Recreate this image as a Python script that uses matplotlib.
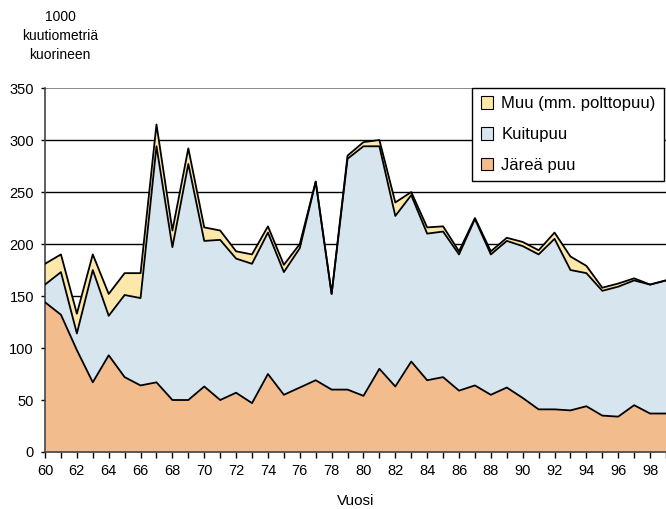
import numpy as np
import matplotlib.pyplot as plt
from matplotlib.patches import Patch

plt.rcParams['font.family'] = ['Liberation Sans', 'DejaVu Sans']

# vuodet 1960-1999
years = list(range(1960, 2000))

# järeä puu (tukit), 1000 m3
jarea = [144, 132, 98, 67, 93, 72, 64, 67, 50, 50,
         63, 50, 57, 47, 75, 55, 62, 69, 60, 60,
         54, 80, 63, 87, 69, 72, 59, 64, 55, 62,
         52, 41, 41, 40, 44, 35, 34, 45, 37, 37]

# kuitupuu, kumulatiivinen taso (järeä + kuitu)
kuitu_top = [161, 173, 114, 175, 131, 151, 148, 294, 197, 277,
             203, 204, 186, 181, 211, 173, 196, 260, 152, 282,
             294, 294, 227, 247, 210, 212, 190, 224, 190, 203,
             198, 190, 205, 175, 172, 155, 159, 165, 161, 165]

# kokonaismäärä (järeä + kuitu + muu)
total = [181, 190, 133, 190, 152, 172, 172, 315, 213, 292,
         216, 213, 193, 190, 217, 180, 200, 260, 152, 285,
         298, 300, 240, 250, 216, 217, 193, 225, 193, 206,
         202, 194, 211, 188, 179, 158, 162, 167, 161, 165]

c_muu = '#FEE8A9'
c_kuitu = '#D7E6EE'
c_jarea = '#F3BC8C'

fig = plt.figure(figsize=(6.66, 5.09), dpi=100)
ax = fig.add_axes([0.0676, 0.112, 0.9324, 0.715])

x = np.array(years) - 1900
ax.fill_between(x, kuitu_top, total, color=c_muu, lw=0, zorder=2)
ax.fill_between(x, jarea, kuitu_top, color=c_kuitu, lw=0, zorder=2)
ax.fill_between(x, 0, jarea, color=c_jarea, lw=0, zorder=2)
for s in (total, kuitu_top, jarea):
    ax.plot(x, s, color='black', lw=1.3, zorder=3)

ax.set_xlim(60, 99)
ax.set_ylim(0, 350)
ax.set_yticks(range(0, 351, 50))
ax.set_xticks(range(60, 99, 2))
ax.set_xticks(range(60, 100), minor=True)
ax.tick_params(axis='x', which='both', direction='out', length=4, width=1,
               labelsize=10.5, pad=5)
ax.tick_params(axis='y', length=3, width=1, labelsize=10.5, pad=5)
for yv in range(50, 301, 50):
    ax.axhline(yv, color='black', lw=1, zorder=1)
ax.axhline(350, color='#777777', lw=1.2, zorder=1)

ax.spines['right'].set_visible(False)
ax.spines['top'].set_visible(False)
ax.spines['left'].set_color('#444444')
ax.spines['bottom'].set_color('#444444')
ax.spines['left'].set_linewidth(1.2)
ax.spines['bottom'].set_linewidth(1.2)

ax.set_xlabel('Vuosi', fontsize=11, labelpad=11)
fig.text(0.09, 0.929, '1000\nkuutiometriä\nkuorineen', ha='center', va='center',
         fontsize=10, linespacing=1.45)

handles = [Patch(facecolor=c_muu, edgecolor='black', lw=0.8, label='Muu (mm. polttopuu)'),
           Patch(facecolor=c_kuitu, edgecolor='black', lw=0.8, label='Kuitupuu'),
           Patch(facecolor=c_jarea, edgecolor='black', lw=0.8, label='Järeä puu')]
leg = ax.legend(handles=handles, loc='upper right', bbox_to_anchor=(0.997, 1.0),
                fontsize=12, frameon=True, fancybox=False, framealpha=1,
                edgecolor='black', handlelength=0.75, handleheight=0.75,
                handletextpad=0.5, labelspacing=0.95, borderpad=0.5, borderaxespad=0)
leg.get_frame().set_linewidth(1)
leg.set_zorder(5)

fig.savefig('out.png', dpi=100)
